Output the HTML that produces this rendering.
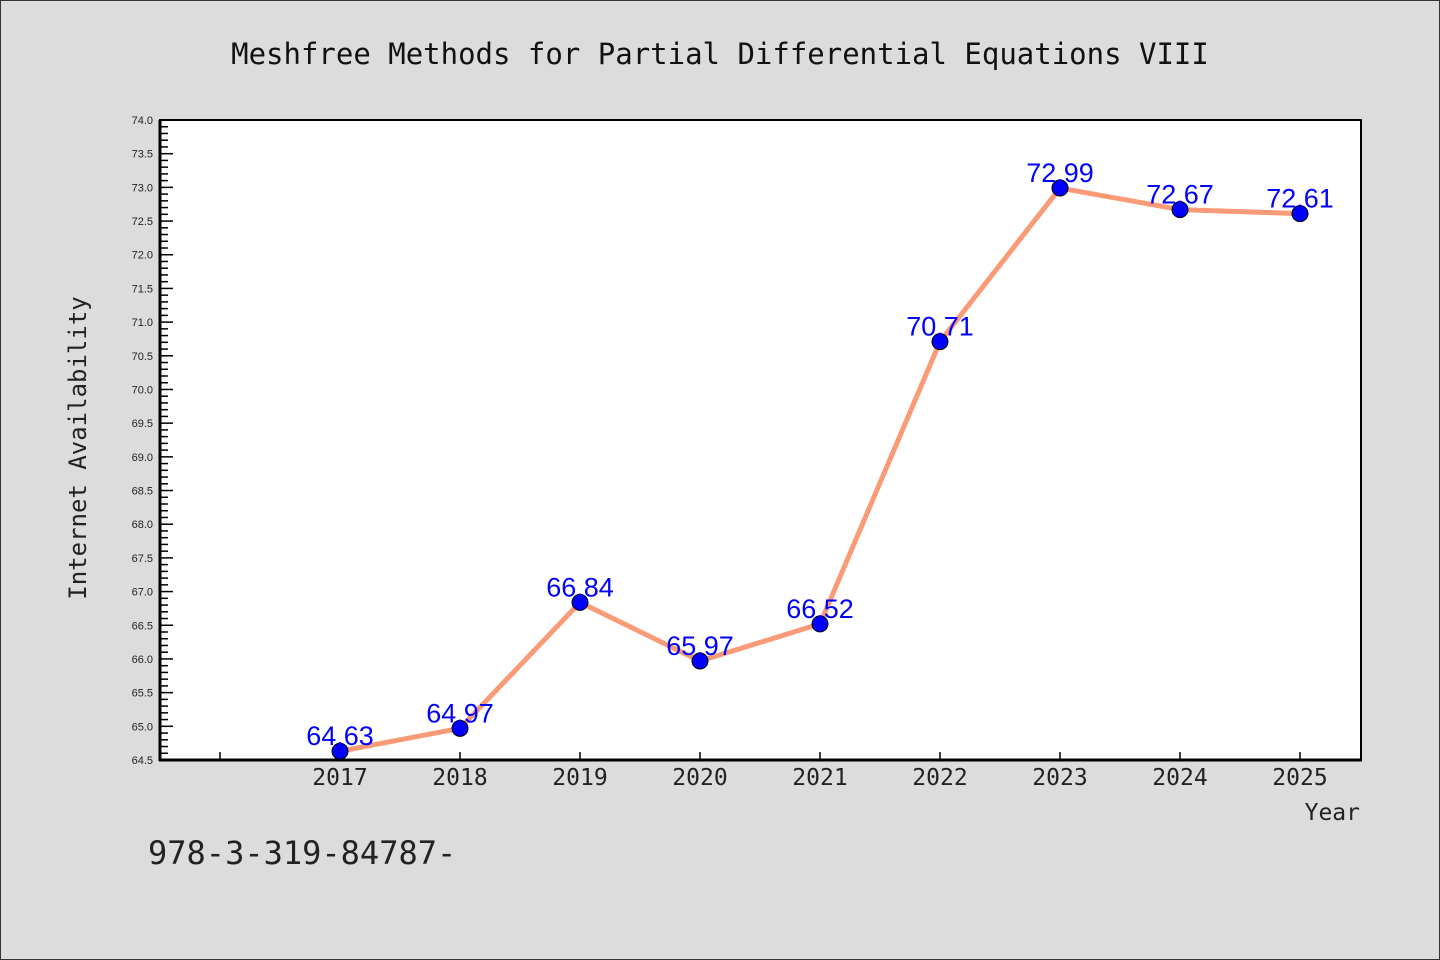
<!DOCTYPE html>
<html><head><meta charset="utf-8"><style>
html,body{margin:0;padding:0;background:#dcdcdc}
svg{display:block}
</style></head><body>
<svg id="chart" width="1440" height="960" xmlns="http://www.w3.org/2000/svg" font-family="'WenQuanYi Zen Hei Mono','WenQuanYi Zen Hei','DejaVu Sans Mono',monospace">
<rect x="0.5" y="0.5" width="1439" height="959" fill="#dcdcdc" stroke="#333"/>
<text x="720" y="64" text-anchor="middle" font-size="29" fill="#111">Meshfree Methods for Partial Differential Equations VIII</text>
<rect x="160" y="120" width="1201" height="640" fill="#fff" stroke="#000" stroke-width="2"/>
<g id="yticks"></g>
<g id="xticks"></g>
<line x1="160" y1="120" x2="160" y2="761" stroke="#000" stroke-width="3"/>
<line x1="159" y1="760" x2="1362" y2="760" stroke="#000" stroke-width="3"/>
<g id="series"></g>
<text x="86" y="448" transform="rotate(-90 86 448)" text-anchor="middle" font-size="24" fill="#222">Internet Availability</text>
<text x="1360" y="820" text-anchor="end" font-size="23" fill="#222">Year</text>
<text x="148" y="864" font-size="32" fill="#222">978-3-319-84787-</text>
</svg>
<script>
const years = [2017,2018,2019,2020,2021,2022,2023,2024,2025];
const values = [64.63,64.97,66.84,65.97,66.52,70.71,72.99,72.67,72.61];
const labels = ["64.63","64.97","66.84","65.97","66.52","70.71","72.99","72.67","72.61"];
const xTickYears = [2016,2017,2018,2019,2020,2021,2022,2023,2024,2025];
const yMin = 64.5, yMax = 74.0;
const NS = "http://www.w3.org/2000/svg";
function xs(v){ return 160 + (v - 2015.5) * 120; }
function ys(v){ return 760 - (v - yMin) / (yMax - yMin) * 640; }
function mk(tag, attrs, parent){ const e = document.createElementNS(NS, tag); for (const k in attrs) e.setAttribute(k, attrs[k]); parent.appendChild(e); return e; }
const yg = document.getElementById('yticks');
for (let i = 0; i <= 95; i++) {
  const v = yMin + i * 0.1, y = ys(v), major = i % 5 === 0;
  const t = mk('line', {x1:160, x2:160 + (major ? 13 : 8), y1:y, y2:y, stroke:'#000', 'stroke-width':1.5}, yg);
  
  
  if (major) {
    const l = mk('text', {x:153, y:y + 4, 'text-anchor':'end', 'font-size':11, fill:'#222', 'font-family':'Liberation Sans, DejaVu Sans, sans-serif'}, yg);
    l.textContent = v.toFixed(1);
    
    
  }
}
const xg = document.getElementById('xticks');
xTickYears.forEach(yr => {
  const x = xs(yr);
  const t = mk('line', {x1:x, x2:x, y1:760, y2:752, stroke:'#000', 'stroke-width':1.5}, xg);
  
  
  if (years.includes(yr)) {
    const l = mk('text', {x:x, y:785, 'text-anchor':'middle', 'font-size':23, fill:'#222'}, xg);
    l.textContent = yr;
    
    
  }
});
const sg = document.getElementById('series');
const line = mk('polyline', {points: years.map((y,i)=>xs(y)+','+ys(values[i])).join(' '), fill:'none', stroke:'#fa9b78', 'stroke-width':5, 'stroke-linejoin':'round'}, sg);


years.forEach((yr, i) => {
  const cx = xs(yr), cy = ys(values[i]);
  const c = mk('circle', {cx:cx, cy:cy, r:8, fill:'#0000ff', stroke:'#000', 'stroke-width':1}, sg);
  
  
  const t = mk('text', {x:cx, y:cy - 6, 'text-anchor':'middle', 'font-size':27, fill:'#0000ff', 'font-family':'Liberation Sans, DejaVu Sans, sans-serif'}, sg);
  t.textContent = labels[i];
  
  
});
</script>
</body></html>
